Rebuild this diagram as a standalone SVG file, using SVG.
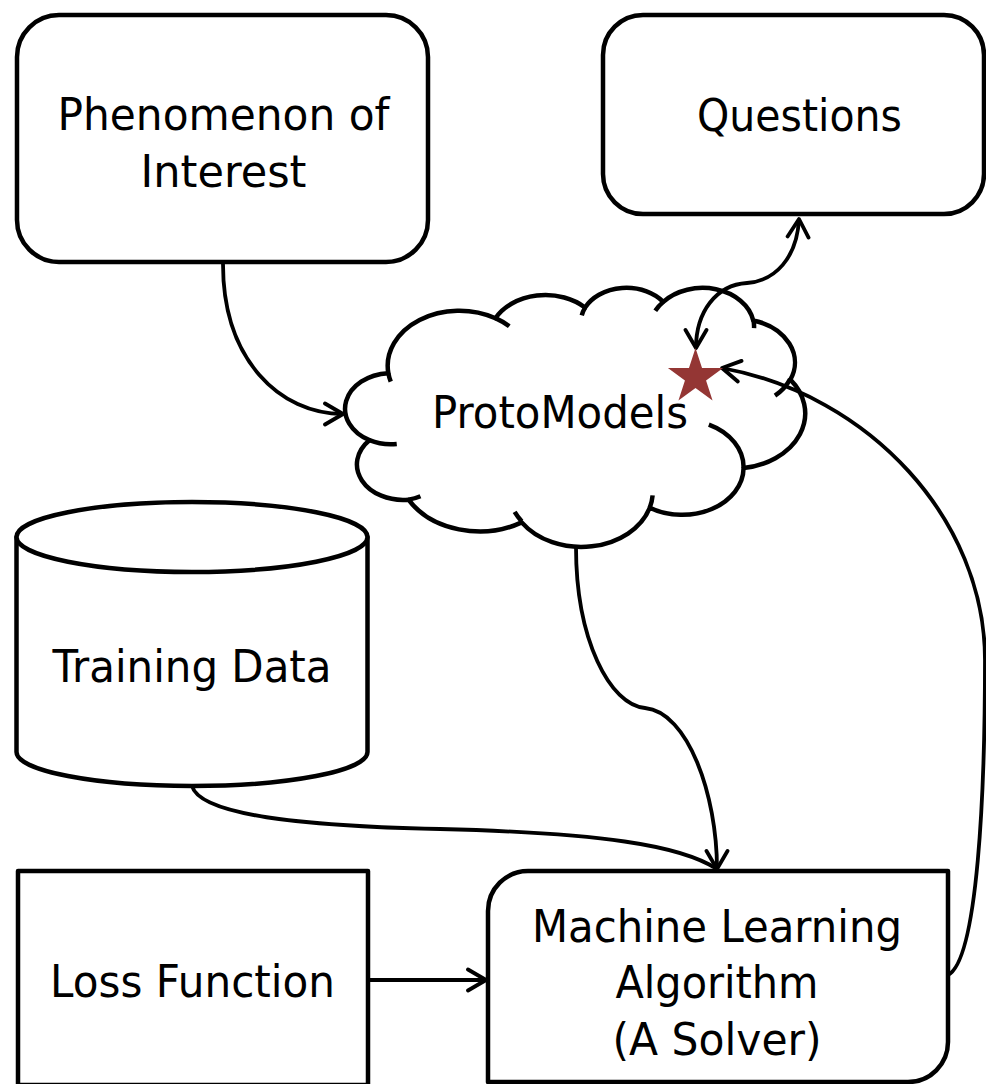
<svg xmlns="http://www.w3.org/2000/svg" width="986" height="1084" viewBox="0 0 986 1084">
<style>
.shape{fill:#fff;stroke:#000;stroke-width:4.5;stroke-linejoin:round}
.crease{fill:none;stroke:#000;stroke-width:4.5}
.lbl{font-family:"DejaVu Sans",Verdana,sans-serif;font-size:44px;fill:#000;text-anchor:middle}
.conn{fill:none;stroke:#000;stroke-width:3.8}
</style>
<defs>
<marker id="arr" viewBox="-22 -13 26 26" refX="0" refY="0" markerWidth="26" markerHeight="26" markerUnits="userSpaceOnUse" orient="auto-start-reverse">
<path d="M-18,-10.5 L0,0 L-18,10.5" fill="none" stroke="#000" stroke-width="3.8" stroke-linecap="round" stroke-linejoin="round"/>
</marker>
</defs>
<rect width="986" height="1084" fill="#fff"/>
<g id="phenomenon">
<rect class="shape" x="17" y="15" width="411" height="247" rx="42"/>
<text class="lbl" x="223.5" y="130" textLength="332" lengthAdjust="spacingAndGlyphs">Phenomenon of</text>
<text class="lbl" x="223.5" y="187" textLength="166" lengthAdjust="spacingAndGlyphs">Interest</text>
</g>
<g id="questions">
<rect class="shape" x="603" y="15" width="381" height="199" rx="40"/>
<text class="lbl" x="799.5" y="131" textLength="205" lengthAdjust="spacingAndGlyphs">Questions</text>
</g>
<g id="protomodels">
<path class="shape" d="M388.35,373.15 A71.60,55.09 0 0 1 495.49,318.19 A56.54,43.57 0 0 1 585.08,307.57 A46.28,35.64 0 0 1 663.29,301.87 A51.49,39.54 0 0 1 753.25,320.43 A56.54,43.60 0 0 1 790.35,379.69 A71.83,55.27 0 0 1 743.56,468.08 A61.33,47.16 0 0 1 649.75,507.71 A71.58,55.24 0 0 1 521.72,522.39 A81.85,63.21 0 0 1 408.53,499.64 A46.22,35.48 0 0 1 369.40,440.15 A46.07,35.64 0 0 1 388.35,373.15 Z"/>
<path class="crease" d="M396.75,443.93 A46.07,35.64 0 0 1 369.40,440.15 M420.45,496.22 A46.22,35.48 0 0 1 408.53,499.64 M521.70,521.34 A71.58,55.24 0 0 1 514.64,511.97 M652.62,495.33 A71.58,55.24 0 0 1 649.75,507.71 M708.84,424.61 A61.33,47.16 0 0 1 743.56,468.08 M790.14,379.05 A56.54,43.60 0 0 1 775.0,395.73 M753.31,319.53 A51.49,39.54 0 0 1 754.05,328.01 M655.29,310.69 A51.49,39.54 0 0 1 663.29,301.87 M581.74,315.30 A46.28,35.64 0 0 1 585.08,307.57 M495.43,318.13 A71.60,55.09 0 0 1 509.26,326.27 M390.75,381.66 A71.60,55.09 0 0 1 388.35,373.15"/>
<text class="lbl" x="560" y="428" textLength="256" lengthAdjust="spacingAndGlyphs">ProtoModels</text>
</g>
<g id="training-data">
<path class="shape" d="M16.5,537 V752 A175.5,34 0 0 0 367.5,752 V537 Z"/>
<ellipse class="shape" cx="192" cy="537" rx="175.5" ry="35"/>
<text class="lbl" x="192" y="682" textLength="279" lengthAdjust="spacingAndGlyphs">Training Data</text>
</g>
<g id="loss-function">
<rect class="shape" x="18" y="871" width="350" height="214"/>
<text class="lbl" x="192.5" y="997" textLength="285" lengthAdjust="spacingAndGlyphs">Loss Function</text>
</g>
<g id="ml-algorithm">
<path class="shape" d="M528,871 H948 V1042 A40,40 0 0 1 908,1082 H488 V911 A40,40 0 0 1 528,871 Z"/>
<text class="lbl" x="717" y="942" textLength="370" lengthAdjust="spacingAndGlyphs">Machine Learning</text>
<text class="lbl" x="717" y="998" textLength="203" lengthAdjust="spacingAndGlyphs">Algorithm</text>
<text class="lbl" x="717" y="1055" textLength="209" lengthAdjust="spacingAndGlyphs">(A Solver)</text>
</g>
<g id="connectors">
<path class="conn" d="M223,264 C223,360 280,414 343,414" marker-end="url(#arr)"/>
<path class="conn" d="M696,348 C696,312 716,285 747,283 C775,281 797,258 799,219" marker-start="url(#arr)" marker-end="url(#arr)"/>
<path class="conn" d="M576,547 C576,640 610,705 645,708 C688,712 717,795 717,869" marker-end="url(#arr)"/>
<path class="conn" d="M192,786 C200,815 300,826 440,829 C600,833 680,845 717,869"/>
<path class="conn" d="M370,980 H486" marker-end="url(#arr)"/>
<path class="conn" d="M948,975 C978,960 985,790 985,660 C985,520 870,395 722,368" marker-end="url(#arr)"/>
</g>
<g id="star">
<polygon fill="#943634" points="695.5,348 702.02,368.02 723.08,368.04 706.06,380.43 712.55,400.46 695.5,388.1 678.45,400.46 684.94,380.43 667.92,368.04 688.98,368.02"/>
</g>
</svg>
